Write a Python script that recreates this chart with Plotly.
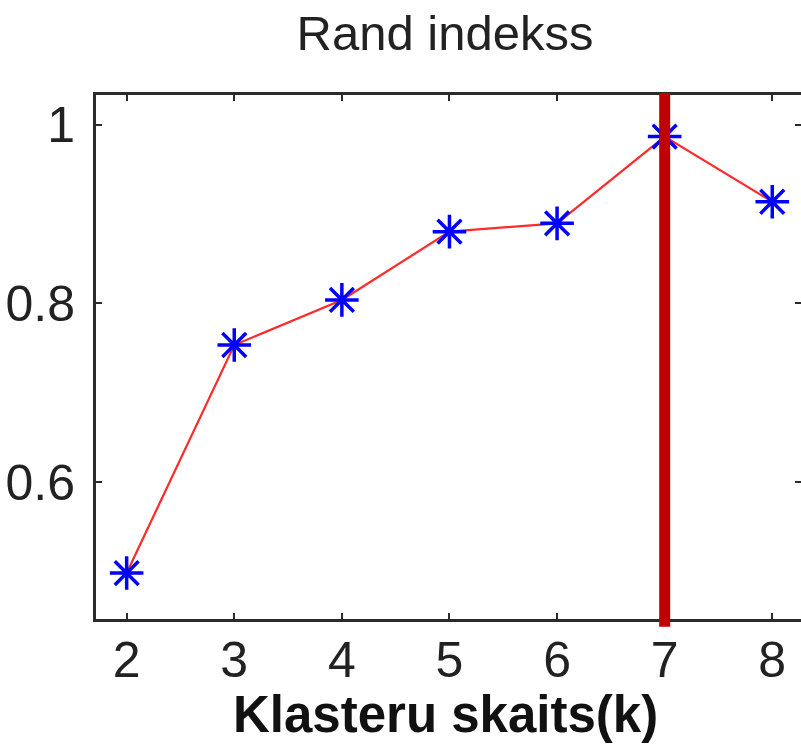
import plotly.graph_objects as go

# Data
k_values = [2, 3, 4, 5, 6, 7, 8]
rand_index = [0.498, 0.7535, 0.804, 0.8805, 0.8898, 0.987, 0.914]
best_k = 7
x_ticks = [2, 3, 4, 5, 6, 7, 8]
y_ticks = [0.6, 0.8, 1.0]
y_tick_labels = ["0.6", "0.8", "1"]

title_text = "Rand indekss"
xlabel_text = "Klasteru skaits(k)"

FONT = "Liberation Sans, Arial, sans-serif"
AX = "#2b2b2b"

x_range = [1.715, 8.267]
y_range = [0.4465, 1.0336]

fig = go.Figure()

fig.add_trace(go.Scatter(
    x=k_values, y=rand_index, mode="lines+markers",
    line=dict(color="#ff2a2a", width=2.2),
    marker=dict(symbol="asterisk-open", size=28, color="#0000ff",
                line=dict(color="#0000ff", width=3.5)),
    showlegend=False, hoverinfo="x+y",
))

# invisible trace on the mirrored axes (top x ticks / right y ticks)
fig.add_trace(go.Scatter(
    x=k_values, y=rand_index, xaxis="x2", yaxis="y2", mode="markers",
    marker=dict(opacity=0), showlegend=False, hoverinfo="skip",
))

fig.add_shape(type="line", xref="x", yref="paper",
              x0=best_k, x1=best_k, y0=-0.015, y1=1.004,
              line=dict(color="#c00000", width=11), layer="above")

fig.update_layout(
    width=801, height=748,
    margin=dict(l=96, r=0, t=95, b=129),
    paper_bgcolor="white", plot_bgcolor="white",
    font=dict(family=FONT, color="#222222"),
    title=dict(text=title_text, x=445 / 801, xref="container", xanchor="center",
               y=1 - 33 / 748, yref="container", yanchor="middle",
               font=dict(size=49, family=FONT, color="#222222")),
    xaxis=dict(range=x_range, tickmode="array", tickvals=x_ticks,
               ticks="inside", ticklen=6, tickwidth=2, tickcolor=AX,
               showline=True, linewidth=3, linecolor=AX, mirror=False,
               showgrid=False, zeroline=False,
               tickfont=dict(size=50, family=FONT, color="#222222"),
               ticklabelstandoff=-5),
    yaxis=dict(range=y_range, tickmode="array", tickvals=y_ticks,
               ticktext=y_tick_labels,
               ticks="inside", ticklen=6, tickwidth=2, tickcolor=AX,
               showline=True, linewidth=3, linecolor=AX, mirror=False,
               showgrid=False, zeroline=False,
               tickfont=dict(size=50, family=FONT, color="#222222"),
               ticklabelstandoff=8),
    xaxis2=dict(range=x_range, overlaying="x", side="top", anchor="y2",
                tickmode="array", tickvals=x_ticks,
                ticks="inside", ticklen=6, tickwidth=2, tickcolor=AX,
                showline=True, linewidth=3, linecolor=AX,
                showticklabels=False, showgrid=False, zeroline=False),
    yaxis2=dict(range=y_range, overlaying="y", side="right", anchor="x2",
                tickmode="array", tickvals=y_ticks,
                ticks="inside", ticklen=6, tickwidth=2, tickcolor=AX,
                showline=False, showticklabels=False, showgrid=False,
                zeroline=False),
    annotations=[dict(text="<b>" + xlabel_text + "</b>", xref="paper", yref="paper",
                      x=(445.5 - 96) / 705, y=-(714 - 619) / 524,
                      xanchor="center", yanchor="middle", showarrow=False,
                      font=dict(size=51, family=FONT, color="#111111"))],
)

fig.write_html("out.html")
